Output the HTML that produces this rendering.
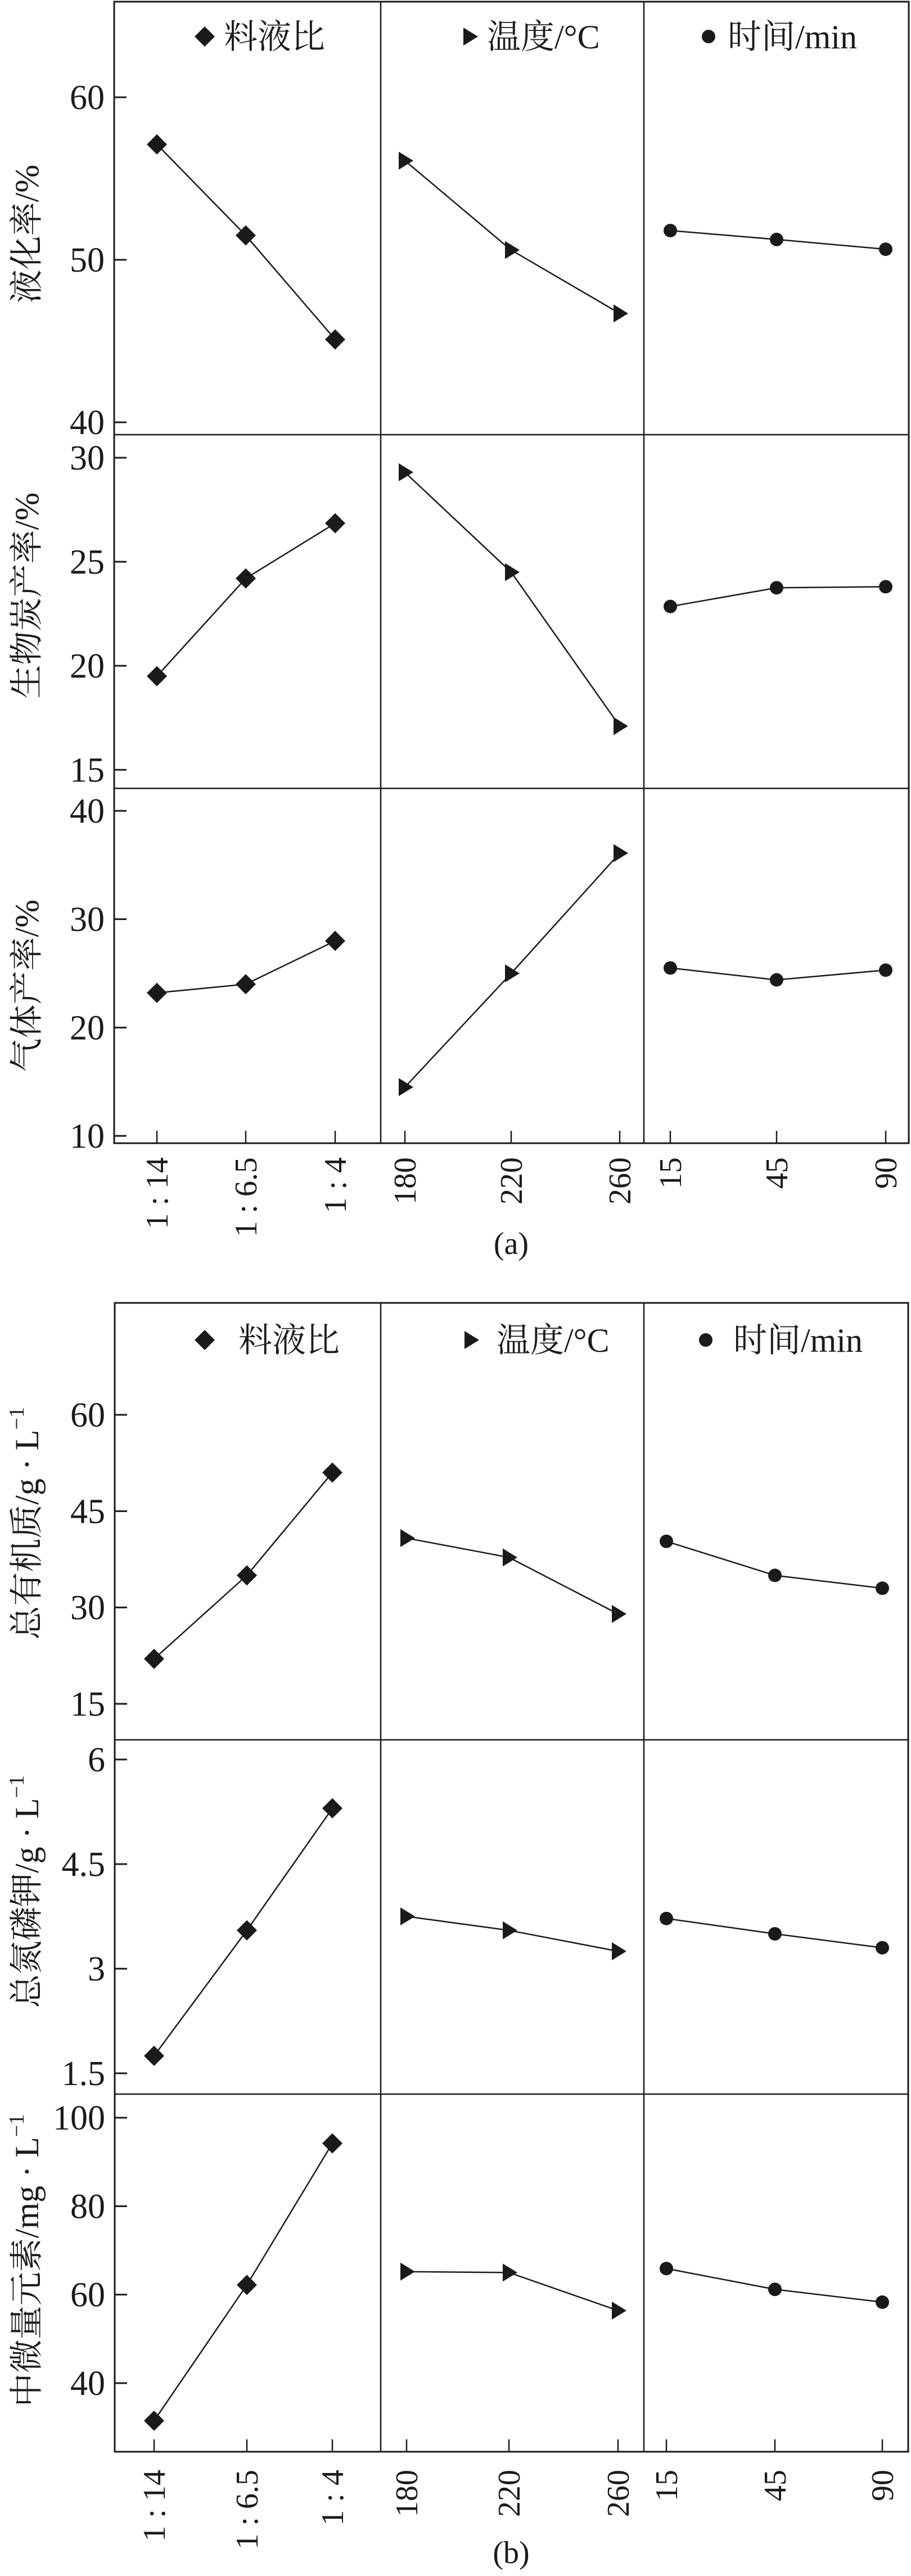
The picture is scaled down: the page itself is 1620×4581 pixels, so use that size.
<!DOCTYPE html>
<html><head><meta charset="utf-8">
<style>
html,body{margin:0;padding:0;background:#fff;}
svg{display:block;}
text{font-family:"Liberation Serif","Noto Serif CJK SC","Noto Sans CJK SC",serif;fill:#1a1a1a;}
</style></head>
<body>
<svg id="chart" width="1620" height="4581" viewBox="0 0 1620 4581" xmlns="http://www.w3.org/2000/svg"></svg>
<script>
// ---- data ----
const ratioCats = ["1 : 14","1 : 6.5","1 : 4"];
const tempCats = ["180","220","260"];
const timeCats = ["15","45","90"];
const factorNames = ["料液比","温度/°C","时间/min"];

// panel (a)
const liqRatio = [57.1, 51.5, 45.1];
const liqTemp = [56.1, 50.6, 46.7];
const liqTime = [51.8, 51.25, 50.65];
const charRatio = [19.5, 24.2, 26.85];
const charTemp = [29.3, 24.5, 17.1];
const charTime = [22.85, 23.75, 23.8];
const gasRatio = [23.2, 24.0, 28.0];
const gasTemp = [14.5, 25.0, 36.1];
const gasTime = [25.5, 24.4, 25.3];
// panel (b)
const orgRatio = [22.0, 35.0, 51.0];
const orgTemp = [40.8, 37.8, 29.0];
const orgTime = [40.3, 35.0, 33.0];
const npkRatio = [1.75, 3.55, 5.3];
const npkTemp = [3.75, 3.55, 3.25];
const npkTime = [3.72, 3.5, 3.3];
const microRatio = [31.5, 62.2, 94.2];
const microTemp = [65.2, 65.0, 56.4];
const microTime = [65.9, 61.2, 58.3];

const ticksLiq = [40, 50, 60];
const ticksChar = [15, 20, 25, 30];
const ticksGas = [10, 20, 30, 40];
const ticksOrg = [15, 30, 45, 60];
const ticksNpk = [1.5, 3, 4.5, 6];
const ticksMicro = [40, 60, 80, 100];
const tickLabelsNpk = ["1.5","3","4.5","6"];

// ---- layout ----
const NS = "http://www.w3.org/2000/svg";
const svg = document.getElementById("chart");
function mk(tag, attrs, parent){
  const e = document.createElementNS(NS, tag);
  for (const k in attrs) e.setAttribute(k, attrs[k]);
  (parent||svg).appendChild(e);
  return e;
}
const panels = [
  {
    id:"a", left:203, right:1616, divs:[677,1145], top:3, axisBottom:2033,
    xr:[279,437,596], xt:[720,909,1102], xm:[1192,1381,1575], tickTop:2058, capY:2230, cap:"(a)",
    legendY:65, legendX:[[364,398],[835,866],[1260,1294]],
    rows:[
      {top:3,bottom:773, v0:60, p0:173, v1:40, p1:751, ticks:ticksLiq, labels:null, series:[liqRatio,liqTemp,liqTime], title:"液化率/%", tY:416, sup:false},
      {top:773,bottom:1402, v0:30, p0:814, v1:15, p1:1369, ticks:ticksChar, labels:null, series:[charRatio,charTemp,charTime], title:"生物炭产率/%", tY:1059, sup:false},
      {top:1402,bottom:2033, v0:40, p0:1442, v1:10, p1:2020, ticks:ticksGas, labels:null, series:[gasRatio,gasTemp,gasTime], title:"气体产率/%", tY:1753, sup:false}
    ]
  },
  {
    id:"b", left:204, right:1615, divs:[677,1145], top:2317, axisBottom:4360,
    xr:[274,439,591], xt:[723,905,1099], xm:[1185,1378,1569], tickTop:4392, capY:4558, cap:"(b)",
    legendY:2383, legendX:[[364,424],[837,883],[1255,1304]],
    rows:[
      {top:2317,bottom:3094, v0:60, p0:2516, v1:15, p1:3030, ticks:ticksOrg, labels:null, series:[orgRatio,orgTemp,orgTime], title:"总有机质/g · L", tY:2709, sup:true},
      {top:3094,bottom:3724, v0:6, p0:3129, v1:1.5, p1:3687, ticks:ticksNpk, labels:tickLabelsNpk, series:[npkRatio,npkTemp,npkTime], title:"总氮磷钾/g · L", tY:3364, sup:true},
      {top:3724,bottom:4360, v0:100, p0:3766, v1:40, p1:4238, ticks:ticksMicro, labels:null, series:[microRatio,microTemp,microTime], title:"中微量元素/mg · L", tY:4020, sup:true}
    ]
  }
];

function marker(kind, x, y, g){
  let e;
  if (kind===0){
    e = mk("polygon",{points:`${x},${y-18} ${x+18},${y} ${x},${y+18} ${x-18},${y}`, fill:"#1a1a1a"}, g);
    
  } else if (kind===1){
    e = mk("polygon",{points:`${x-11},${y-16} ${x+15},${y} ${x-11},${y+16}`, fill:"#1a1a1a"}, g);
    
  } else {
    e = mk("circle",{cx:x, cy:y, r:12, fill:"#1a1a1a"}, g);
    
  }
  
  return e;
}

panels.forEach(P=>{
  const pg = mk("g",{});
  
  
  const fr = mk("rect",{x:P.left, y:P.top, width:P.right-P.left, height:P.axisBottom-P.top, fill:"none", stroke:"#1a1a1a", "stroke-width":3}, pg);
  
  
  P.divs.forEach(d=>{
    const l = mk("line",{x1:d, x2:d, y1:P.top, y2:P.axisBottom, stroke:"#1a1a1a", "stroke-width":2.5}, pg);
    
    
  });
  P.legendX.forEach((lx,i)=>{
    marker(i, lx[0], P.legendY, pg);
    const t = mk("text",{x:lx[1], y:P.legendY+21, "font-size":60}, pg);
    t.textContent = factorNames[i];
    
    
  });
  const xGroups = [P.xr, P.xt, P.xm];
  const cats = [ratioCats, tempCats, timeCats];
  xGroups.forEach((xs,gi)=>{
    xs.forEach((x,ci)=>{
      const tk = mk("line",{x1:x,x2:x,y1:P.axisBottom,y2:P.axisBottom-22,stroke:"#1a1a1a","stroke-width":2.5}, pg);
      
      
      const t = mk("text",{x:0,y:0,"font-size":56,"text-anchor":"end",transform:`translate(${x+19},${P.tickTop}) rotate(-90)`}, pg);
      t.textContent = cats[gi][ci];
      
      
    });
  });
  const cap = mk("text",{x:909,y:P.capY,"font-size":56,"text-anchor":"middle"}, pg);
  cap.textContent = P.cap;
  
  
  P.rows.forEach((R,ri)=>{
    if (ri>0){
      const sep = mk("line",{x1:P.left,x2:P.right,y1:R.top,y2:R.top,stroke:"#1a1a1a","stroke-width":2.5}, pg);
      
      
    }
    const yOf = v => R.p0 + (v - R.v0) * (R.p1 - R.p0) / (R.v1 - R.v0);
    R.ticks.forEach((v,ti)=>{
      const y = yOf(v);
      const tk = mk("line",{x1:P.left,x2:P.left+22,y1:y,y2:y,stroke:"#1a1a1a","stroke-width":3}, pg);
      
      
      const t = mk("text",{x:P.left-17,y:y+21,"font-size":62,"text-anchor":"end"}, pg);
      t.textContent = R.labels ? R.labels[ti] : String(v);
      
      
    });
    const tt = mk("text",{x:0,y:0,"font-size":60,"text-anchor":"middle",transform:`translate(${68},${R.tY}) rotate(-90)`}, pg);
    tt.textContent = R.title;
    if (R.sup){
      const s = mk("tspan",{"font-size":38, dy:-26}, tt);
      s.textContent = "−1";
    }
    
    
    R.series.forEach((vals,si)=>{
      const xs = xGroups[si];
      const pts = vals.map((v,i)=>`${xs[i]},${yOf(v)}`).join(" ");
      const pl = mk("polyline",{points:pts,fill:"none",stroke:"#1a1a1a","stroke-width":2.5}, pg);
      
      
      vals.forEach((v,i)=> marker(si, xs[i], yOf(v), pg));
    });
  });
});
</script>
</body></html>
